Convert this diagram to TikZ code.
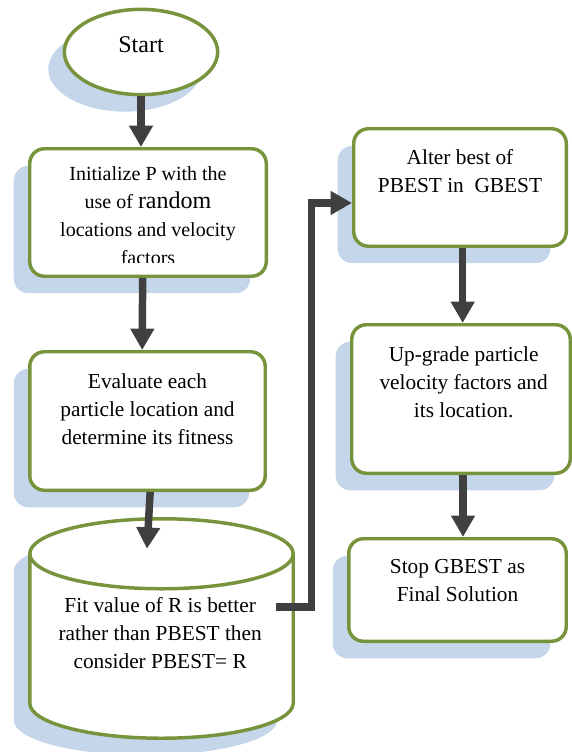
\documentclass[tikz,border=0pt]{standalone}
\usepackage{fontspec}
\setmainfont{Liberation Serif}
\usetikzlibrary{shapes.geometric,shadows,arrows.meta}

\definecolor{boxgreen}{HTML}{77933C}
\definecolor{shadeblue}{HTML}{C6D6EA}
\definecolor{flowgray}{HTML}{404040}

\begin{document}
\begin{tikzpicture}[x=0.75pt,y=-0.75pt,
        blueshadow/.style={general shadow={fill=shadeblue,shadow xshift=-12pt,shadow yshift=-12.75pt}},
        stepbox/.style={draw=boxgreen,line width=2.6pt,fill=white,rounded corners=11pt,blueshadow},
        flow/.style={draw=flowgray,line width=5.6pt,-{Triangle[width=17pt,length=16pt]}},
        txt/.style={align=center,font=\fontsize{16}{21}\selectfont}]
                        \useasboundingbox (0,0) rectangle (571,752);

                        % left column
                        \node[ellipse,draw=boxgreen,line width=2.6pt,fill=white,blueshadow,
                              minimum width=115pt,minimum height=64pt,text height=12pt,text depth=10.5pt,
                              font=\fontsize{18}{22}\selectfont] (start) at (141,52) {Start};
                        \node[stepbox,minimum width=177.4pt,minimum height=95.6pt] (init) at (148,212.5) {};
                        \node[stepbox,minimum width=176.6pt,minimum height=103.9pt] (eval) at (147.5,421) {};
                        \node[inner sep=0pt,outer sep=0pt,minimum width=197.6pt,minimum height=164.6pt] (fit) at (161.5,628.5) {};
                        \path[draw=boxgreen,line width=2.6pt,fill=white,blueshadow]
                              ([yshift=-26.25pt]fit.north west) -- ([yshift=26.25pt]fit.south west)
                              arc[start angle=180,end angle=360,x radius=98.8pt,y radius=26.25pt]
                              -- ([yshift=-26.25pt]fit.north east)
                              arc[start angle=0,end angle=180,x radius=98.8pt,y radius=26.25pt] -- cycle;
                        \draw[boxgreen,line width=2.6pt] ([yshift=-26.25pt]fit.north west)
                              arc[start angle=180,end angle=360,x radius=98.8pt,y radius=26.25pt];

                        % right column
                        \node[stepbox,minimum width=159.4pt,minimum height=88.1pt] (alter) at (460,187.5) {};
                        \node[stepbox,minimum width=163.9pt,minimum height=111.4pt] (upgrade) at (461,399) {};
                        \node[stepbox,minimum width=163.1pt,minimum height=76.9pt] (stop) at (457.5,590) {};

                        % texts
                        \begin{scope}
                        \clip (28,140) rectangle (268,262);
                        \node[txt,font=\fontsize{15}{21}\selectfont] (inittxt) at ([yshift=-2pt]init.center)
                              {Initialize P with the\\use of {\fontsize{18}{21}\selectfont random}\\locations and velocity\\factors};
                        \end{scope}
                        \node[txt] (evaltxt) at ([yshift=8.6pt]eval.center)
                              {Evaluate each\\particle location and\\determine its fitness};
                        \node[txt] (fittxt) at ([xshift=-1pt,yshift=-3.75pt]fit.center)
                              {Fit value of R is better\\rather than PBEST then\\consider PBEST= R};
                        \node[txt] (altertxt) at ([yshift=12.4pt]alter.center)
                              {Alter best of\\PBEST in\ \ GBEST};
                        \node[txt] (upgradetxt) at ([xshift=2pt,yshift=12.4pt]upgrade.center)
                              {Up-grade particle\\velocity factors and\\its location.};
                        \node[txt] (stoptxt) at ([yshift=6.75pt]stop.center)
                              {Stop GBEST as\\Final Solution};

                        % arrows
                        \draw[flow] (start.south) -- (start.south |- init.north);
                        \draw[flow] ([xshift=-4pt]init.south) -- ([xshift=-4pt]eval.north);
                        \draw[flow] ([xshift=2pt]eval.south) -- ([xshift=-10.9pt,yshift=-22.5pt]fit.north);
                        \draw[flow] ([xshift=-12.75pt,yshift=16pt]fit.east)
                              -| ([xshift=-30.5pt,yshift=-11.6pt]alter.west) -- ([yshift=-11.6pt]alter.west);
                        \draw[flow] ([xshift=2pt]alter.south) -- ([xshift=2pt]alter.south |- upgrade.north);
                        \draw[flow] ([xshift=1.5pt]upgrade.south) -- ([xshift=1.5pt]upgrade.south |- stop.north);
                    \end{tikzpicture}
\end{document}
